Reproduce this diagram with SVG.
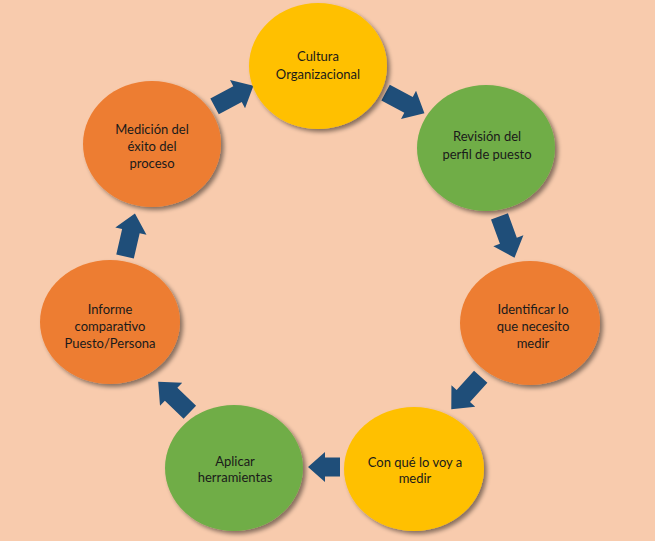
<svg xmlns="http://www.w3.org/2000/svg" width="655" height="541" viewBox="0 0 655 541">
<defs>
<filter id="sh" x="-20%" y="-20%" width="140%" height="140%">
<feDropShadow dx="3" dy="3" stdDeviation="2.2" flood-color="#000" flood-opacity="0.45"/>
</filter>
<path id="arr" d="M-22,-9 H4 V-16 L22,0 L4,16 V9 H-22 Z"/>
<path id="arrs" d="M-16,-9.5 H-1 V-15 L16,0 L-1,15 V9.5 H-16 Z"/>
</defs>
<style>
.y{fill:#FFC000;filter:url(#sh)}
.g{fill:#70AD47;filter:url(#sh)}
.o{fill:#ED7D31;filter:url(#sh)}
text{font-family:Lato,"Open Sans","Liberation Sans",sans-serif;font-size:13px;fill:#1a1a1a;text-anchor:middle}
.a{fill:#1F4E79}
</style>
<rect width="655" height="541" fill="#F8CBAD"/>
<g id="connectors" class="a">
<use href="#arr" transform="translate(234,96) rotate(-28)"/>
<use href="#arr" transform="translate(405,103) rotate(28)"/>
<use href="#arr" transform="translate(507,237) rotate(70)"/>
<use href="#arr" transform="translate(466,393) rotate(132)"/>
<use href="#arrs" transform="translate(324,467) rotate(180)"/>
<use href="#arr" transform="translate(174,397) rotate(-136)"/>
<use href="#arr" transform="translate(130,235) rotate(-77)"/>
</g>
<g id="n1"><ellipse class="y" cx="318" cy="66" rx="69" ry="63"/><text x="318" y="61">Cultura</text><text x="318" y="79">Organizacional</text></g>
<g id="n2"><ellipse class="g" cx="486" cy="148" rx="69" ry="63"/><text x="487" y="141">Revisión del</text><text x="487" y="159">perfil de puesto</text></g>
<g id="n3"><ellipse class="o" cx="530" cy="323" rx="70" ry="62"/><text x="533" y="314">Identificar lo</text><text x="533" y="331">que necesito</text><text x="533" y="348">medir</text></g>
<g id="n4"><ellipse class="y" cx="414" cy="469" rx="70" ry="62"/><text x="415" y="467">Con qué lo voy a</text><text x="415" y="483">medir</text></g>
<g id="n5"><ellipse class="g" cx="234" cy="468" rx="69" ry="63"/><text x="235" y="466">Aplicar</text><text x="235" y="482">herramientas</text></g>
<g id="n6"><ellipse class="o" cx="110" cy="322" rx="70" ry="62"/><text x="110" y="314">Informe</text><text x="110" y="331">comparativo</text><text x="110" y="348">Puesto/Persona</text></g>
<g id="n7"><ellipse class="o" cx="152" cy="144" rx="69" ry="63"/><text x="152" y="134">Medición del</text><text x="152" y="151">éxito del</text><text x="152" y="168">proceso</text></g>
</svg>
